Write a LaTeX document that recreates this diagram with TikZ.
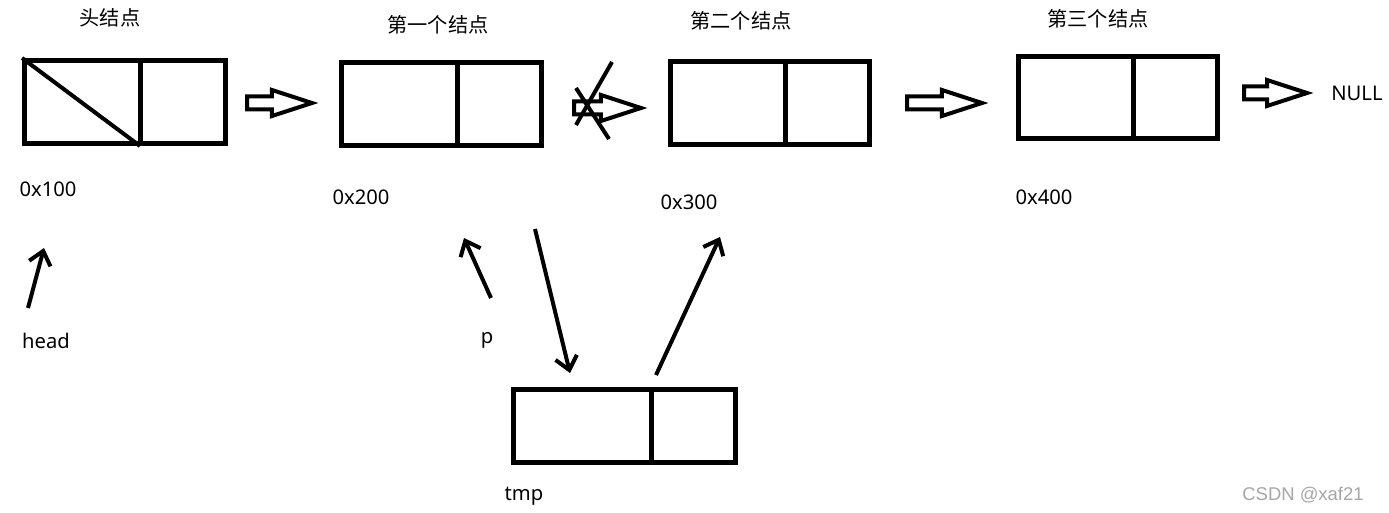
\documentclass[tikz,border=0pt]{standalone}
\usepackage{fontspec}
\setmainfont{Noto Sans}
\newfontfamily\cjk{Noto Sans CJK SC}
\newfontfamily\wmfont{Liberation Sans}
\usetikzlibrary{arrows.meta,positioning,shapes.arrows,calc}

\tikzset{
  cell/.style={draw,line width=0.1cm,inner sep=0pt},
  hollow/.style={single arrow,draw,line width=0.08cm,inner sep=0.09cm,anchor=tail,
    single arrow head extend=0.13cm,single arrow tip angle=36},
  ptr/.style={line width=0.08cm,-{Straight Barb[length=0.26cm,width=0.44cm]}},
  lbl/.style={font=\fontsize{11.5}{13}\selectfont,inner sep=0pt},
  title/.style={font=\cjk\fontsize{11.5}{13}\selectfont,inner sep=0pt}
}

\begin{document}
\begin{tikzpicture}[x=0.02cm,y=-0.02cm]
  \useasboundingbox (0,0) rectangle (1389,513);

  % list cells
  \node[cell,minimum width=4.02cm,minimum height=1.66cm] (headnode) at (125,102) {};
  \node[cell,minimum width=4.00cm,minimum height=1.66cm] (node1) at (441.5,104) {};
  \node[cell,minimum width=3.98cm,minimum height=1.66cm] (node2) at (770,103) {};
  \node[cell,minimum width=3.98cm,minimum height=1.64cm] (node3) at (1118,97.5) {};
  \node[cell,minimum width=4.44cm,minimum height=1.46cm] (tmpnode) at (624.5,426) {};

  % data | next dividers
  \foreach \n/\f in {headnode/0.573, node1/0.576, node2/0.574, node3/0.574, tmpnode/0.62}{
    \draw[line width=0.1cm] ($(\n.north west)!\f!(\n.north east)$) -- ($(\n.south west)!\f!(\n.south east)$);
  }
  \draw[line width=0.08cm] (headnode.north west) -- ($(headnode.south west)!0.573!(headnode.south east)$);

  % titles and addresses
  \node[title] (t0) at (110,18) {头结点};
  \node[title] (t1) at (438,25) {第一个结点};
  \node[title] (t2) at (741,21) {第二个结点};
  \node[title] (t3) at (1098,19) {第三个结点};
  \node[lbl] (a0) at (48,189) {0x100};
  \node[lbl] (a1) at (361,197) {0x200};
  \node[lbl] (a2) at (689,202) {0x300};
  \node[lbl] (a3) at (1044,197) {0x400};
  \node[lbl] (nul) at (1357,93) {NULL};
  \node[lbl] (headlbl) at (46,341) {head};
  \node[lbl] (plbl) at (487,340) {p};
  \node[lbl] (tmplbl) at (524,496) {tmp};

  % next links
  \node[hollow,minimum height=1.30cm] (l0) at (245,103) {};
  \node[hollow,minimum height=1.34cm] (l1) at (572,108) {};
  \node[hollow,minimum height=1.50cm] (l2) at (905,103) {};
  \node[hollow,minimum height=1.26cm] (l3) at (1242,93) {};

  % broken link
  \draw[line width=0.08cm] (612,62) -- (576,125);
  \draw[line width=0.08cm] (576,88) -- (609,139);

  % pointers
  \coordinate (headtail) at (28,308);
  \coordinate (headtip) at (44,248);
  \coordinate (ptail) at (491,298);
  \coordinate (ptip) at (464,238);
  \coordinate (intail) at (535,229);
  \coordinate (intip) at (570,373);
  \coordinate (outtail) at (656,375);
  \coordinate (outtip) at (720,237);
  \draw[ptr] (headtail) -- (headtip);
  \draw[ptr] (ptail) -- (ptip);
  \draw[ptr] (intail) -- (intip);
  \draw[ptr] (outtail) -- (outtip);

  \node[font=\wmfont\fontsize{10.5}{12}\selectfont,text=gray!70,inner sep=0pt] (wm) at (1303,495) {CSDN @xaf21};
\end{tikzpicture}
\end{document}
